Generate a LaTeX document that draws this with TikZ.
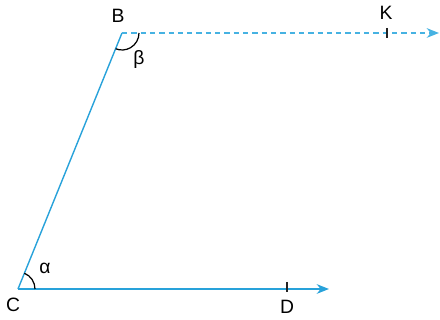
\documentclass[tikz,border=0pt]{standalone}
\usepackage{fontspec}
\setmainfont{Liberation Sans}
\usetikzlibrary{arrows.meta, positioning, calc}
\definecolor{myblue}{RGB}{40,162,218}
\definecolor{mylight}{RGB}{70,178,226}
\definecolor{mydark}{RGB}{35,35,35}
\tikzset{
  side/.style={line width=0.8pt, color=myblue},
  ray/.style={side, -{Stealth[length=7pt,width=5.5pt]}},
  dashray/.style={ray, color=mylight, dash pattern=on 3pt off 2.3pt},
  tick/.style={line width=0.6pt, color=mydark},
  anglearc/.style={line width=0.7pt, color=black},
  lbl/.style={font=\fontsize{11}{13}\selectfont, inner sep=0pt}
}
\begin{document}
\begin{tikzpicture}[x=0.02cm, y=-0.02cm]
  \useasboundingbox (0,0) rectangle (440,320);
  % Points
  \coordinate (C) at (18,289);
  \coordinate (B) at (122,33);
  \coordinate (Dend) at (329,289);
  \coordinate (Kend) at (439,33);
  \coordinate (D) at (287,289);
  \coordinate (K) at (387,33);
  % Sides and rays
  \draw[side] (C) -- (B);
  \draw[ray] (C) -- (Dend);
  \draw[dashray] (B) -- (Kend);
  % Tick marks
  \draw[tick] ($(D)+(0,-7)$) -- ($(D)+(0,3)$);
  \draw[tick] ($(K)+(0,-5)$) -- ($(K)+(0,5)$);
  % Angles
  \draw[anglearc] ($(B)+(17,0)$) arc (0:112:17);
  \draw[anglearc] ($(C)+(17,0)$) arc (0:-68:17);
  % Labels
  \node[lbl] (labB) at (118,16) {B};
  \node[lbl] (labC) at (13,305) {C};
  \node[lbl] (labD) at (287,307) {D};
  \node[lbl] (labK) at (386,13) {K};
  \node[lbl] (alpha) at (45,268) {α};
  \node[lbl] (beta) at (139,60) {β};
\end{tikzpicture}
\end{document}
